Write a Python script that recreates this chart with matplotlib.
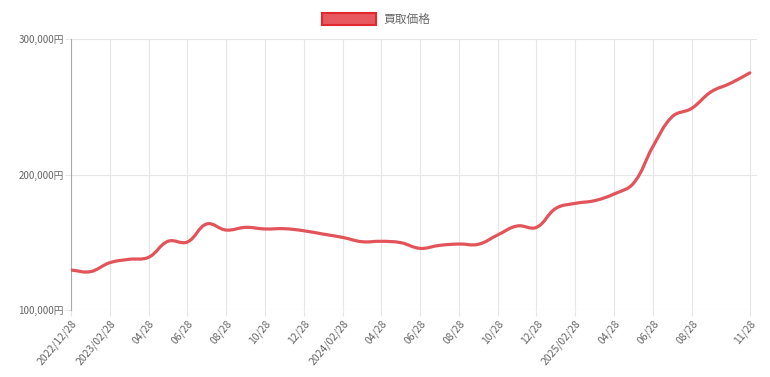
import numpy as np
import matplotlib.pyplot as plt
from matplotlib.path import Path
from matplotlib.patches import PathPatch, Patch

plt.rcParams['font.family'] = ['Noto Sans CJK JP', 'DejaVu Sans']

# 月ごとの買取価格 (2022/12 〜 2025/11)
months = ['2022/12/28', '01/28', '2023/02/28', '03/28', '04/28', '05/28', '06/28', '07/28',
          '08/28', '09/28', '10/28', '11/28', '12/28', '01/28', '2024/02/28', '03/28',
          '04/28', '05/28', '06/28', '07/28', '08/28', '09/28', '10/28', '11/28',
          '12/28', '01/28', '2025/02/28', '03/28', '04/28', '05/28', '06/28', '07/28',
          '08/28', '09/28', '10/28', '11/28']
prices = [129500, 128300, 134900, 137400, 138900, 150700, 150200, 163500,
          159000, 161000, 159800, 160000, 158500, 156000, 153600, 150400,
          150700, 149700, 145500, 147700, 148700, 148500, 155400, 162000,
          161000, 175000, 178700, 180700, 185600, 193500, 220500, 242700,
          248800, 261000, 267300, 275000]
# 表示するラベル (1か月おき + 最後)
shown = list(range(0, len(months) - 3, 2)) + [len(months) - 1]

line_color = '#e3535a'

fig = plt.figure(figsize=(7.7, 3.77), dpi=100)
ax = fig.add_axes([71 / 770, 1 - 310 / 377, (757 - 71) / 770, (310 - 39) / 377])

x = np.arange(len(prices), dtype=float)
y = np.array(prices, dtype=float)

# Chart.js風のなめらかな曲線 (tension 0.4)
sx, sy = 19.37, 135.5 / 100000
px, py = x * sx, y * sy
t = 0.4
cp1 = []
cp2 = []
for i in range(len(x)):
    p0 = (px[max(i - 1, 0)], py[max(i - 1, 0)])
    p1 = (px[i], py[i])
    p2 = (px[min(i + 1, len(x) - 1)], py[min(i + 1, len(x) - 1)])
    d01 = np.hypot(p1[0] - p0[0], p1[1] - p0[1])
    d12 = np.hypot(p2[0] - p1[0], p2[1] - p1[1])
    tot = d01 + d12 if d01 + d12 > 0 else 1
    fa, fb = t * d01 / tot, t * d12 / tot
    cp1.append((p1[0] - fa * (p2[0] - p0[0]), p1[1] - fa * (p2[1] - p0[1])))
    cp2.append((p1[0] + fb * (p2[0] - p0[0]), p1[1] + fb * (p2[1] - p0[1])))

verts = [(x[0], y[0])]
codes = [Path.MOVETO]
for i in range(len(x) - 1):
    verts += [(cp2[i][0] / sx, cp2[i][1] / sy), (cp1[i + 1][0] / sx, cp1[i + 1][1] / sy), (x[i + 1], y[i + 1])]
    codes += [Path.CURVE4] * 3
ax.add_patch(PathPatch(Path(verts, codes), fill=False, edgecolor=line_color, lw=2.3,
                       capstyle='round', joinstyle='round', zorder=3))

ax.set_xlim(0, len(prices) - 1 + 0.37)
ax.set_ylim(100000, 300000)
ax.set_yticks([100000, 200000, 300000])
ax.set_yticklabels([f'{v:,}円' for v in [100000, 200000, 300000]])
ax.set_xticks(shown)
ax.set_xticklabels([months[i] for i in shown], rotation=50, ha='right', rotation_mode='anchor')

ax.grid(True, color='#e6e6e6', lw=0.8)
ax.set_axisbelow(True)
ax.tick_params(axis='both', colors='#e6e6e6', labelcolor='#666666', labelsize=7.5, length=4, width=0.8)
ax.tick_params(axis='y', labelsize=7, pad=1)
ax.tick_params(axis='x', pad=2)
for s in ['top', 'right', 'bottom']:
    ax.spines[s].set_visible(False)
ax.spines['left'].set_color('#aaaaaa')
ax.spines['left'].set_linewidth(0.8)

handle = Patch(facecolor='#e8595f', edgecolor='#e0282e', lw=1.5)
fig.legend([handle], ['買取価格'], loc='center', bbox_to_anchor=(0.488, 1 - 19.5 / 377),
           frameon=False, fontsize=8.5, labelcolor='#666666',
           handlelength=4.6, handleheight=1.2, handletextpad=0.6)

fig.savefig('out.png', dpi=100)
